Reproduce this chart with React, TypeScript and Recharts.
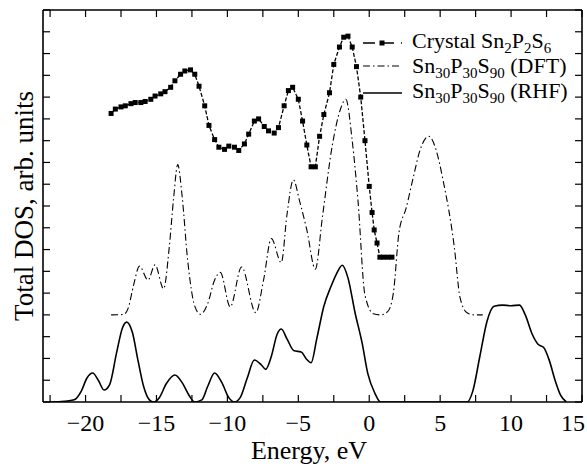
import React from 'react';
import { LineChart, Line, XAxis, YAxis } from 'recharts';

// energy ticks (eV), labels only on multiples of 5
const xTicks = [-22.5, -20, -17.5, -15, -12.5, -10, -7.5, -5, -2.5, 0, 2.5, 5, 7.5, 10, 12.5, 15];
const yTicks = [0, 1, 2, 3, 4, 5, 6, 7, 8, 9, 10, 11, 12, 13, 14, 15, 16, 17, 18];

const crystalE = [-18.2, -17.9, -17.5, -17.2, -16.8, -16.5, -16.1, -15.8, -15.4, -15.1, -14.7, -14.4, -14.0, -13.7, -13.3, -13.0, -12.6, -12.3, -12.0, -11.6, -11.3, -10.9, -10.6, -10.2, -9.9, -9.5, -9.2, -8.8, -8.5, -8.1, -7.8, -7.4, -7.1, -6.7, -6.4, -6.0, -5.7, -5.4, -5.0, -4.7, -4.4, -4.1, -3.8, -3.5, -3.2, -2.8, -2.5, -2.1, -1.8, -1.5, -1.2, -0.9, -0.6, -0.3, 0.0, 0.2, 0.35, 0.55, 0.75, 1.0, 1.3, 1.6];
const crystalDos = [13.25, 13.45, 13.55, 13.6, 13.7, 13.75, 13.75, 13.8, 13.9, 14.05, 14.15, 14.25, 14.45, 14.75, 15.05, 15.2, 15.25, 15.05, 14.5, 13.6, 12.7, 12.05, 11.7, 11.6, 11.75, 11.7, 11.55, 11.85, 12.3, 12.9, 13.0, 12.65, 12.45, 12.35, 12.6, 13.6, 14.3, 14.45, 13.9, 12.9, 11.8, 10.8, 10.8, 12.2, 13.2, 14.2, 15.5, 16.3, 16.75, 16.8, 16.3, 15.4, 14.0, 12.0, 9.9, 8.7, 7.9, 7.3, 6.65, 6.65, 6.65, 6.65];

const dftE = [-18.2, -17.3, -17.0, -16.6, -16.2, -15.6, -15.1, -14.5, -14.1, -13.8, -13.5, -13.2, -12.8, -12.3, -11.9, -11.4, -10.9, -10.5, -9.8, -9.0, -8.0, -7.45, -6.9, -6.2, -5.8, -5.35, -4.9, -4.4, -3.8, -3.3, -2.6, -2.0, -1.65, -1.2, -0.8, -0.3, 0.3, 0.8, 1.3, 1.7, 2.1, 2.6, 3.1, 3.6, 4.2, 4.7, 5.2, 6.0, 6.4, 6.9, 7.4, 8.0];
const dftDos = [4.0, 4.02, 4.3, 5.4, 6.24, 5.6, 6.3, 5.2, 7.1, 9.3, 10.9, 9.5, 6.5, 4.4, 4.03, 4.5, 5.6, 5.95, 4.37, 6.2, 4.1, 5.6, 7.5, 6.4, 8.6, 10.2, 9.2, 7.9, 6.1, 8.5, 11.8, 13.5, 13.9, 12.0, 9.3, 4.9, 4.05, 4.0, 4.15, 5.0, 7.8, 8.9, 10.3, 11.6, 12.2, 11.6, 10.2, 7.1, 4.8, 4.1, 4.0, 4.0];

const rhfE = [-22.5, -21.5, -20.8, -20.3, -19.9, -19.5, -19.1, -18.7, -18.3, -17.8, -17.4, -17.1, -16.7, -16.3, -15.9, -15.5, -15.2, -14.8, -14.3, -13.7, -13.2, -12.7, -12.3, -11.8, -11.4, -10.9, -10.4, -9.9, -9.5, -9.1, -8.6, -8.1, -7.6, -7.3, -6.9, -6.5, -6.2, -5.8, -5.3, -4.8, -4.4, -4.1, -3.7, -3.2, -2.7, -2.3, -1.9, -1.5, -1.0, -0.5, -0.1, 0.4, 0.8, 6.9, 7.3, 7.8, 8.3, 8.8, 9.4, 10.0, 10.6, 11.0, 11.5, 11.9, 12.3, 12.7, 13.1, 13.5, 13.9];
const rhfDos = [0, 0.03, 0.1, 0.5, 1.1, 1.33, 1.0, 0.55, 0.8, 2.3, 3.4, 3.67, 3.2, 1.9, 0.7, 0.1, 0, 0.2, 0.85, 1.24, 0.9, 0.3, 0, 0.1, 0.7, 1.33, 0.9, 0.2, 0, 0.2, 1.1, 1.93, 1.7, 1.5, 2.1, 3.1, 3.35, 2.9, 2.35, 2.3, 1.95, 1.8, 2.9, 4.4, 5.3, 5.9, 6.28, 5.7, 4.1, 2.7, 1.3, 0.4, 0, 0, 0.5, 2.1, 3.7, 4.4, 4.45, 4.42, 4.45, 4.0, 3.1, 2.65, 2.5, 1.9, 1.0, 0.3, 0];

const toPoints = (xs: number[], ys: number[]) => xs.map((e, i) => ({ e, dos: ys[i] }));
const crystalData = toPoints(crystalE, crystalDos);
const dftData = toPoints(dftE, dftDos);
const rhfData = toPoints(rhfE, rhfDos);

const FONT = 'Liberation Serif, serif';
const TICK = 7;

const fmt = (v: number) => (v < 0 ? '\u2212' + Math.abs(v) : String(v));

const BottomTick = (props: any) => {
  const { x, y, payload } = props;
  const v = payload.value;
  const last = v === xTicks[xTicks.length - 1];
  return (
    <g>
      <line x1={x} y1={y} x2={x} y2={y - TICK} stroke="#000" strokeWidth={1.2} />
      {v % 5 === 0 && (
        <text
          x={last ? x + 3 : x}
          y={y + 29}
          textAnchor={last ? 'end' : 'middle'}
          fontSize={24}
          fontFamily={FONT}
          fill="#000"
        >
          {fmt(v)}
        </text>
      )}
    </g>
  );
};

const TopTick = (props: any) => (
  <line x1={props.x} y1={props.y} x2={props.x} y2={props.y + TICK} stroke="#000" strokeWidth={1.2} />
);
const LeftTick = (props: any) => (
  <line x1={props.x} y1={props.y} x2={props.x + TICK} y2={props.y} stroke="#000" strokeWidth={1.2} />
);
const RightTick = (props: any) => (
  <line x1={props.x} y1={props.y} x2={props.x - TICK} y2={props.y} stroke="#000" strokeWidth={1.2} />
);

const SquareDot = (p: any) => (
  <rect key={p.index} x={p.cx - 2.5} y={p.cy - 2.5} width={5} height={5} fill="#000" />
);

// subscript helper for the legend labels
const Sub = ({ children }: { children: React.ReactNode }) => (
  <tspan dy={5} fontSize={15}>{children}</tspan>
);
const Up = ({ children }: { children: React.ReactNode }) => <tspan dy={-5}>{children}</tspan>;

export default function App() {
  return (
    <div style={{ position: 'absolute', left: 0, top: 0, width: 587, height: 466, background: '#fff' }}>
      <LineChart width={587} height={466} margin={{ top: 0, right: 0, bottom: 0, left: 0 }}>
        <XAxis
          xAxisId="bottom"
          dataKey="e"
          type="number"
          domain={[-23, 15]}
          ticks={xTicks}
          allowDataOverflow
          height={64}
          tickSize={0}
          tickMargin={0}
          tickLine={false}
          axisLine={{ stroke: '#000', strokeWidth: 1.6 }}
          tick={<BottomTick />}
          interval={0}
        />
        <XAxis
          xAxisId="top"
          orientation="top"
          dataKey="e"
          type="number"
          domain={[-23, 15]}
          ticks={xTicks}
          allowDataOverflow
          height={10}
          tickSize={0}
          tickMargin={0}
          tickLine={false}
          axisLine={{ stroke: '#000', strokeWidth: 1.6 }}
          tick={<TopTick />}
          interval={0}
        />
        <YAxis
          yAxisId="left"
          type="number"
          domain={[0, 18]}
          ticks={yTicks}
          allowDataOverflow
          width={43}
          tickSize={0}
          tickMargin={0}
          tickLine={false}
          axisLine={{ stroke: '#000', strokeWidth: 1.6 }}
          tick={<LeftTick />}
          interval={0}
        />
        <YAxis
          yAxisId="right"
          orientation="right"
          type="number"
          domain={[0, 18]}
          ticks={yTicks}
          allowDataOverflow
          width={5}
          tickSize={0}
          tickMargin={0}
          tickLine={false}
          axisLine={{ stroke: '#000', strokeWidth: 1.6 }}
          tick={<RightTick />}
          interval={0}
        />
        <Line
          data={rhfData}
          xAxisId="bottom"
          yAxisId="left"
          dataKey="dos"
          type="monotone"
          stroke="#000"
          strokeWidth={1.6}
          dot={false}
          isAnimationActive={false}
        />
        <Line
          data={dftData}
          xAxisId="top"
          yAxisId="left"
          dataKey="dos"
          type="monotone"
          stroke="#000"
          strokeWidth={1.1}
          strokeDasharray="7 3 1.5 3"
          dot={false}
          isAnimationActive={false}
        />
        <Line
          data={crystalData}
          xAxisId="bottom"
          yAxisId="right"
          dataKey="dos"
          type="linear"
          stroke="#000"
          strokeWidth={1.3}
          strokeDasharray="4 2"
          dot={SquareDot}
          isAnimationActive={false}
        />
      </LineChart>

      {/* titles and legend */}
      <svg
        width={587}
        height={466}
        style={{ position: 'absolute', left: 0, top: 0, pointerEvents: 'none' }}
        fontFamily={FONT}
        fill="#000"
      >
        <text x={309} y={459} textAnchor="middle" fontSize={26}>Energy, eV</text>
        <text x={33} y={206} textAnchor="middle" fontSize={27} transform="rotate(-90 33 206)">
          Total DOS, arb. units
        </text>

        <line x1={363} y1={43} x2={402} y2={43} stroke="#000" strokeWidth={1.5} strokeDasharray="12 7" />
        <rect x={379.5} y={40.5} width={5} height={5} fill="#000" />
        <text x={412} y={48} fontSize={22}>
          Crystal Sn<Sub>2</Sub><Up>P</Up><Sub>2</Sub><Up>S</Up><Sub>6</Sub>
        </text>

        <line x1={363} y1={66} x2={402} y2={66} stroke="#000" strokeWidth={1.1} strokeDasharray="7 3 1.5 3" />
        <text x={412} y={73} fontSize={22}>
          Sn<Sub>30</Sub><Up>P</Up><Sub>30</Sub><Up>S</Up><Sub>90</Sub><Up> (DFT)</Up>
        </text>

        <line x1={363} y1={93} x2={402} y2={93} stroke="#000" strokeWidth={1.5} />
        <text x={412} y={98} fontSize={22}>
          Sn<Sub>30</Sub><Up>P</Up><Sub>30</Sub><Up>S</Up><Sub>90</Sub><Up> (RHF)</Up>
        </text>
      </svg>
    </div>
  );
}
